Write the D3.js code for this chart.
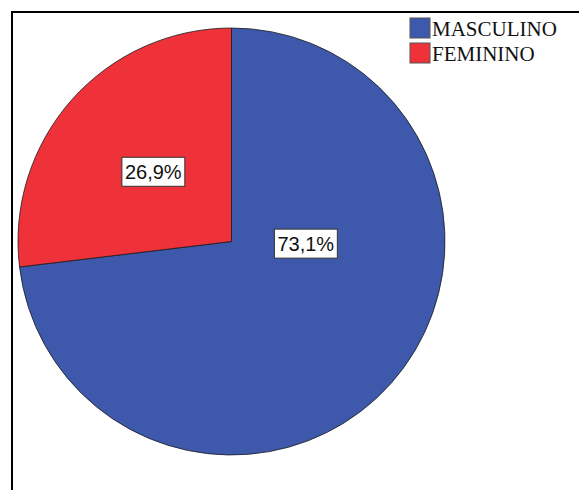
<!DOCTYPE html>
<html lang="es">
<head>
    <meta charset="UTF-8">
    <title>Sexo</title>
    <script src="https://cdn.jsdelivr.net/npm/d3@7"></script>
    <style>
        body { margin: 0; background: #fff; }
    </style>
</head>
<body>
<script>
    // datos
    const categories = ["MASCULINO", "FEMENINO"];
    const legendLabels = ["MASCULINO", "FEMININO"];
    const percents = [73.1, 26.9];
    const colors = ["#3e58ac", "#ef323a"];

    var w = 579, h = 490;
    var cx = 231.5, cy = 241.5, r = 213.5;

    var svg = d3.select("body").append("svg")
        .attr("width", w)
        .attr("height", h);

    // marco
    svg.append("path")
        .attr("d", "M12," + h + "V12H" + w)
        .attr("fill", "none")
        .attr("stroke", "#000")
        .attr("stroke-width", 2);

    var pie = d3.pie().sort(null).value(function (d) { return d; });
    var arcs = pie(percents);

    var arc = d3.arc().innerRadius(0).outerRadius(r);

    var g = svg.append("g").attr("transform", "translate(" + cx + "," + cy + ")");

    g.selectAll("path.slice")
        .data(arcs)
        .enter()
        .append("path")
        .attr("class", "slice")
        .attr("d", arc)
        .attr("fill", function (d, i) { return colors[i]; })
        .attr("stroke", "#1a1a1a")
        .attr("stroke-width", 0.8);

    // etiquetas: centroide con desplazamiento por porción
    var labelArc = d3.arc().innerRadius(0).outerRadius(r * 0.98);
    var shift = [[-4, -67], [0, 0]];

    var labels = g.selectAll("g.lab")
        .data(arcs)
        .enter()
        .append("g")
        .attr("class", "lab")
        .attr("transform", function (d, i) {
            var c = labelArc.centroid(d);
            return "translate(" + (c[0] + shift[i][0]) + "," + (c[1] + shift[i][1]) + ")";
        });

    labels.each(function (d, i) {
        var sel = d3.select(this);
        var t = sel.append("text")
            .text(d3.format(".1f")(percents[i]).replace(".", ",") + "%")
            .attr("text-anchor", "middle")
            .attr("dy", "0.36em")
            .attr("font-family", "Arial, 'Liberation Sans', sans-serif")
            .attr("font-size", "20px")
            .attr("fill", "#111");
        var bb = t.node().getBBox();
        sel.insert("rect", "text")
            .attr("x", bb.x - 3)
            .attr("y", bb.y - 4)
            .attr("width", bb.width + 6)
            .attr("height", bb.height + 7)
            .attr("fill", "#fff")
            .attr("stroke", "#333")
            .attr("stroke-width", 1);
    });

    // leyenda
    var legend = svg.selectAll("g.leg")
        .data(legendLabels)
        .enter()
        .append("g")
        .attr("class", "leg")
        .attr("transform", function (d, i) { return "translate(410," + (18 + i * 25) + ")"; });

    legend.append("rect")
        .attr("width", 20)
        .attr("height", 20)
        .attr("fill", function (d, i) { return colors[i]; })
        .attr("stroke", "#555")
        .attr("stroke-width", 1);

    legend.append("text")
        .text(function (d) { return d; })
        .attr("x", 22)
        .attr("y", 18)
        .attr("font-family", "'Liberation Serif', 'Times New Roman', serif")
        .attr("font-size", "21px")
        .attr("fill", "#111");
</script>
</body>
</html>
